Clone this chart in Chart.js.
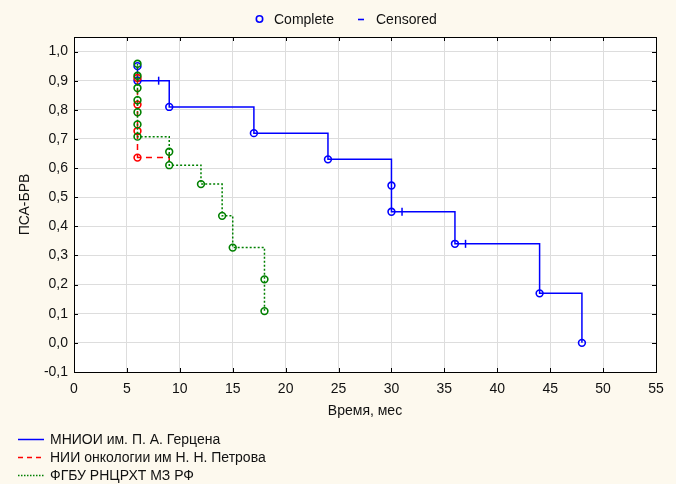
<!DOCTYPE html>
<html><head><meta charset="utf-8">
<script src="https://cdn.jsdelivr.net/npm/chart.js@4/dist/chart.umd.min.js"></script>
<style>
body{margin:0;background:#fdf9ee;}
#wrap{position:relative;width:676px;height:484px;overflow:hidden;background:#fdf9ee;}
canvas{position:absolute;left:0;top:0;}
.t{position:absolute;font:14px "Liberation Sans",Arial,sans-serif;color:#111;white-space:nowrap;line-height:16px;}
svg{position:absolute;left:0;top:0;}
</style></head><body>
<div id="wrap">
<canvas id="c" width="676" height="484"></canvas>
<svg width="676" height="484">
  <circle cx="259.5" cy="19" r="3.2" fill="none" stroke="#0000ff" stroke-width="1.6"/>
  <line x1="358" y1="19.5" x2="364" y2="19.5" stroke="#0000ff" stroke-width="1.6"/>
  <line x1="18" y1="439.5" x2="44" y2="439.5" stroke="#0000ff" stroke-width="1.5"/>
  <line x1="18" y1="457.5" x2="44" y2="457.5" stroke="#ff0000" stroke-width="1.5" stroke-dasharray="5,4"/>
  <line x1="18" y1="475.5" x2="44" y2="475.5" stroke="#008000" stroke-width="1.5" stroke-dasharray="1.5,1.5"/>
</svg>
<div class="t" style="left:274px;top:11px;">Complete</div>
<div class="t" style="left:376px;top:11px;">Censored</div>
<div class="t" style="left:50px;top:431px;">МНИОИ им. П. А. Герцена</div>
<div class="t" style="left:50px;top:449px;">НИИ онкологии им Н. Н. Петрова</div>
<div class="t" style="left:50px;top:467px;">ФГБУ РНЦРХТ МЗ РФ</div>
</div>
<script>
// ---- data ----
const xTicks = [0,5,10,15,20,25,30,35,40,45,50,55];
const yTicks = [-0.1,0,0.1,0.2,0.3,0.4,0.5,0.6,0.7,0.8,0.9,1.0];

const blueTimes = [6,6,9,17,24,30,30,36,44,48];
const blueSurv  = [0.95,0.90,0.81,0.72,0.63,0.54,0.45,0.34,0.17,0.0];
const blueCensT = [8,31,37];
const blueCensS = [0.90,0.45,0.34];

const redTimes = [6,6,6,6];
const redSurv  = [0.909,0.818,0.727,0.636];
const redCensT = [9];
const redCensS = [0.636];

const greenTimes = [6,6,6,6,6,6,6,9,9,12,14,15,18,18];
const greenSurv  = [0.958,0.917,0.875,0.833,0.792,0.750,0.708,0.656,0.610,0.545,0.436,0.327,0.218,0.109];
const greenCensT = [];
const greenCensS = [];

const FONT = '"Liberation Sans", Arial, sans-serif';

function pts(t,s){return t.map((v,i)=>({x:v,y:s[i]}));}
function lineData(t,s,ct,cs){
  const a = pts(t,s).map(p=>({...p,k:0}));
  const b = pts(ct,cs).map(p=>({...p,k:1}));
  return a.concat(b).sort((p,q)=>p.x-q.x || p.k-q.k || q.y-p.y).map(p=>({x:p.x,y:p.y}));
}
function group(name,color,dash,t,s,ct,cs){
  return [
    {label:name+' complete',type:'scatter',data:pts(t,s),pointStyle:'circle',pointRadius:3.4,borderColor:color,borderWidth:1.6,backgroundColor:'rgba(0,0,0,0)',showLine:false},
    {label:name+' censored',type:'scatter',data:pts(ct,cs),pointStyle:'line',rotation:90,pointRadius:4,borderColor:color,borderWidth:1.5,showLine:false},
    {label:name,type:'line',data:lineData(t,s,ct,cs),borderColor:color,borderWidth:1.5,borderDash:dash,stepped:'before',pointRadius:0,fill:false}
  ];
}

const frame = {
  id:'frame',
  afterDraw(chart){
    const {ctx,chartArea:a,scales:{x,y}} = chart;
    ctx.save();
    ctx.strokeStyle='#000';ctx.lineWidth=1;
    ctx.strokeRect(Math.round(a.left)+0.5,Math.round(a.top)+0.5,Math.round(a.right-a.left),Math.round(a.bottom-a.top));
    ctx.beginPath();
    const L=4;
    xTicks.forEach(v=>{const px=Math.round(x.getPixelForValue(v))+0.5;
      ctx.moveTo(px,a.bottom);ctx.lineTo(px,a.bottom-L);
      ctx.moveTo(px,a.top);ctx.lineTo(px,a.top+L);});
    yTicks.forEach(v=>{const py=Math.round(y.getPixelForValue(v))+0.5;
      ctx.moveTo(a.left,py);ctx.lineTo(a.left+L,py);
      ctx.moveTo(a.right,py);ctx.lineTo(a.right-L,py);});
    ctx.stroke();
    ctx.restore();
  }
};
const whiteArea = {
  id:'whiteArea',
  beforeDraw(chart){const {ctx,chartArea:a}=chart;ctx.save();ctx.fillStyle='#ffffff';ctx.fillRect(a.left,a.top,a.right-a.left,a.bottom-a.top);ctx.restore();}
};

new Chart(document.getElementById('c'),{
  data:{datasets:[
    ...group('ФГБУ РНЦРХТ МЗ РФ','#008000',[2,2],greenTimes,greenSurv,greenCensT,greenCensS),
    ...group('НИИ онкологии им Н. Н. Петрова','#ff0000',[6,5],redTimes,redSurv,redCensT,redCensS),
    ...group('МНИОИ им. П. А. Герцена','#0000ff',[],blueTimes,blueSurv,blueCensT,blueCensS)
  ]},
  options:{
    responsive:false,animation:false,
    layout:{padding:{left:0,right:20,top:37,bottom:0}},
    plugins:{legend:{display:false},tooltip:{enabled:false}},
    scales:{
      x:{type:'linear',min:0,max:55,
        afterBuildTicks:s=>{s.ticks=xTicks.map(v=>({value:v}));},
        afterFit:s=>{s.height=112;},
        grid:{color:'#dddddd',drawTicks:false},border:{display:false},
        ticks:{padding:9,color:'#111',font:{family:FONT,size:14},callback:v=>String(v)},
        title:{display:true,text:'Время, мес',color:'#111',font:{family:FONT,size:14},padding:{top:0,bottom:64}}
      },
      y:{type:'linear',min:-0.1,max:1.05,
        afterBuildTicks:s=>{s.ticks=yTicks.map(v=>({value:v}));},
        afterFit:s=>{s.width=74;},
        grid:{color:'#dddddd',drawTicks:false},border:{display:false},
        ticks:{padding:6,color:'#111',font:{family:FONT,size:14},callback:v=>Number(v).toFixed(1).replace('.',',')},
        title:{display:true,text:'ПСА-БРВ',color:'#111',font:{family:FONT,size:14},padding:{top:17,bottom:0}}
      }
    }
  },
  plugins:[whiteArea,frame]
});
</script>
</body></html>
